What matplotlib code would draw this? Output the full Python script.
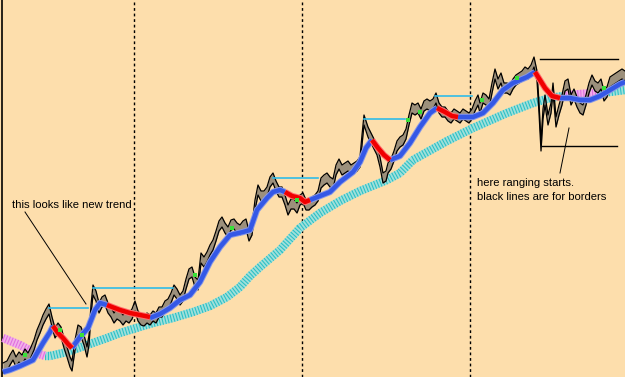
import numpy as np
import matplotlib.pyplot as plt

# price path (screen pixel coordinates, y grows downward)
price_x = [3, 7, 10, 13, 16, 19, 22, 25, 28, 31, 34, 37, 40, 43, 46, 49, 52, 55, 58, 61,
           64, 67, 70, 72, 75, 78, 81, 84, 87, 89, 91, 93, 96, 99, 102, 105, 108, 111, 114, 117,
           120, 123, 126, 129, 132, 135, 138, 141, 144, 147, 150, 153, 156, 159, 162, 165, 168, 171, 174, 177,
           180, 183, 186, 189, 192, 195, 198, 201, 204, 207, 210, 213, 216, 219, 222, 225, 228, 231, 234, 237,
           240, 243, 246, 249, 252, 255, 258, 261, 264, 267, 270, 273, 276, 279, 282, 285, 288, 291, 294, 297,
           300, 303, 306, 309, 312, 315, 318, 321, 324, 327, 330, 333, 336, 339, 342, 345, 348, 351, 354, 357,
           360, 362, 364, 366, 368, 371, 374, 377, 380, 383, 386, 388, 391, 394, 397, 400, 403, 406, 409, 412,
           415, 418, 421, 424, 427, 430, 433, 436, 439, 442, 445, 448, 451, 454, 457, 460, 463, 466, 469, 472,
           475, 478, 480, 483, 486, 489, 492, 495, 498, 501, 504, 507, 510, 513, 516, 519, 522, 525, 528, 531,
           534, 537, 539, 541, 543, 545, 548, 551, 553, 556, 559, 562, 565, 568, 571, 574, 577, 580, 583, 586,
           589, 592, 595, 598, 601, 604, 607, 610, 613, 616, 619, 622, 625]
price_y = [368, 366, 360, 355, 362, 357, 360, 354, 358, 352, 345, 335, 328, 320, 314, 309, 322, 333, 328, 332,
           343, 352, 362, 366, 345, 330, 332, 340, 352, 340, 310, 290, 296, 308, 302, 300, 308, 312, 318, 314,
           316, 320, 316, 318, 314, 306, 316, 320, 321, 318, 320, 316, 318, 312, 312, 306, 304, 298, 290, 294,
           300, 296, 284, 274, 272, 282, 285, 258, 262, 257, 250, 245, 236, 226, 222, 228, 232, 225, 224, 228,
           230, 226, 224, 236, 230, 205, 190, 196, 196, 192, 182, 178, 186, 192, 192, 200, 210, 204, 204, 208,
           200, 198, 205, 205, 202, 200, 196, 183, 180, 178, 182, 184, 170, 164, 170, 168, 166, 170, 168, 166,
           162, 140, 120, 126, 132, 138, 144, 150, 162, 178, 176, 168, 164, 156, 146, 142, 140, 134, 120, 108,
           110, 108, 114, 106, 104, 106, 104, 98, 108, 112, 112, 116, 118, 114, 116, 118, 114, 116, 118, 114,
           106, 100, 108, 98, 100, 104, 88, 74, 84, 78, 88, 88, 90, 84, 80, 78, 76, 72, 74, 70,
           62, 76, 108, 146, 114, 100, 120, 108, 88, 122, 110, 100, 86, 84, 100, 94, 102, 108, 110, 100,
           88, 80, 86, 88, 84, 96, 92, 82, 80, 78, 76, 74, 76]

# fast moving average, blue parts and red (falling) parts
ma_blue = [
    ([3, 10, 20, 33, 43, 50, 53], [372, 370, 366, 360, 343, 332, 326]),
    ([72, 80, 88, 95, 100, 107], [348, 337, 328, 310, 303, 305]),
    ([150, 160, 170, 180, 190, 200, 210, 220, 230, 243, 250, 257, 267, 273, 280, 285],
     [318, 314, 308, 300, 295, 282, 262, 247, 235, 232, 230, 210, 198, 192, 190, 192]),
    ([310, 320, 330, 340, 353, 360, 366, 372], [200, 196, 192, 182, 172, 162, 148, 140]),
    ([390, 400, 410, 420, 430, 437], [160, 156, 143, 127, 113, 108]),
    ([458, 473, 483, 493, 503, 513, 527, 535], [117, 117, 113, 103, 90, 83, 77, 72]),
    ([560, 570, 580, 590, 600, 610, 620, 625], [98, 98, 100, 100, 96, 90, 84, 82]),
]
ma_red = [
    ([53, 58, 63, 68, 72], [326, 333, 338, 344, 348]),
    ([107, 112, 120, 130, 140, 150], [305, 307, 310, 313, 315, 317]),
    ([285, 292, 300, 305, 310], [192, 196, 198, 202, 200]),
    ([372, 378, 384, 390], [140, 148, 155, 160]),
    ([437, 445, 452, 458], [108, 112, 116, 117]),
    ([535, 540, 545, 552, 560], [72, 80, 88, 96, 98]),
]

# slow moving average (cyan, pink where flat)
slow_cyan = [
    ([45, 50, 67, 87, 107, 120, 133, 153, 173, 193, 210, 227, 240, 250, 260, 280, 300, 320, 340,
      360, 387, 400, 413, 447, 473, 507, 533, 550, 563],
     [356, 356, 352, 345, 338, 333, 329, 323, 318, 312, 306, 297, 287, 276, 267, 250, 228, 213, 201,
      191, 180, 173, 160, 141, 128, 113, 103, 98, 96]),
    ([597, 610, 625], [93, 92, 90]),
]
slow_pink = [
    ([3, 20, 33, 45], [338, 345, 352, 356]),
    ([563, 580, 597], [96, 94, 93]),
]

# green candle marks
green_x = [25, 60, 82, 195, 232, 297, 408, 420, 482, 517, 604]
green_y = [355, 330, 335, 275, 228, 200, 120, 112, 100, 78, 88]

# horizontal levels: (x_start, x_end, y)
levels = [(49, 88, 308), (93, 173, 288), (273, 318, 178), (364, 405, 119), (435, 472, 96)]
borders = [(540, 618, 59), (542, 617, 146)]
sessions = [134, 302, 470]

bg = '#FDDEAC'
fig = plt.figure(figsize=(6.25, 3.77), dpi=100)
fig.patch.set_facecolor(bg)
ax = fig.add_axes([0, 0, 1, 1])
ax.set_facecolor(bg)
ax.set_xlim(0, 625)
ax.set_ylim(377, 0)
ax.axis('off')

ax.axvline(2, color='black', lw=1.2)
for sx in sessions:
    ax.axvline(sx, color='black', lw=1, linestyle=(0, (2, 2)))

# slow MA, striped look
for xs, ys in slow_cyan:
    ax.plot(xs, ys, color='#A0E0DA', lw=6, solid_capstyle='butt', zorder=2)
    ax.plot(xs, ys, color='#2CC0C6', lw=6, linestyle=(0, (0.13, 0.22)),
            dash_capstyle='butt', zorder=2)
for xs, ys in slow_pink:
    ax.plot(xs, ys, color='#F2B0EA', lw=6, solid_capstyle='butt', zorder=2)
    ax.plot(xs, ys, color='#E070E0', lw=6, linestyle=(0, (0.13, 0.22)),
            dash_capstyle='butt', zorder=2)

# price band
px = np.array(price_x)
py = np.array(price_y)
half = 5
ax.fill_between(px, py - half, py + half, color='#9C907C', lw=0, zorder=3)
ax.plot(px, py - half, color='black', lw=0.9, zorder=3)
ax.plot(px, py + half, color='black', lw=0.9, zorder=3)

# fast MA
for xs, ys in ma_blue:
    ax.plot(xs, ys, color='#8898E6', lw=4.6, solid_capstyle='butt', zorder=4)
    ax.plot(xs, ys, color='#3458E6', lw=3.2, solid_capstyle='butt', zorder=4)
for xs, ys in ma_red:
    ax.plot(xs, ys, color='#FF7070', lw=4.6, solid_capstyle='butt', zorder=4)
    ax.plot(xs, ys, color='#F00000', lw=3.2, solid_capstyle='butt', zorder=4)

ax.scatter(green_x, green_y, marker='s', s=7, color='#38E038', lw=0, zorder=5)

for x0, x1, y in levels:
    ax.plot([x0, x1], [y, y], color='#30BCE8', lw=1.2, zorder=6)
for x0, x1, y in borders:
    ax.plot([x0, x1], [y, y], color='black', lw=1, zorder=6)

font = dict(family='Liberation Sans', fontsize=8.1, color='black', zorder=7)
ax.text(12, 205, 'this looks like new trend', va='center', ha='left', **font)
ax.plot([25, 86], [212, 304], color='black', lw=0.7, zorder=6)
ax.text(477, 183, 'here ranging starts.', va='center', ha='left', **font)
ax.text(477, 197, 'black lines are for borders', va='center', ha='left', **font)
ax.plot([569, 560], [128, 173], color='black', lw=0.7, zorder=6)

plt.savefig('out.png', dpi=100, facecolor=bg)
